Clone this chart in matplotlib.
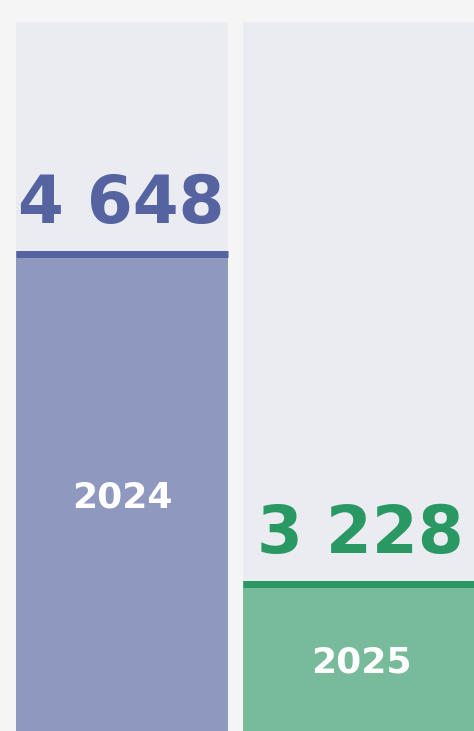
import matplotlib
matplotlib.use("Agg")
import matplotlib.pyplot as plt
from matplotlib.transforms import offset_copy

# Data
years = ["2024", "2025"]
values = [4648, 3228]
value_labels = ["4 648", "3 228"]

# Style
page_bg = "#f5f5f5"
column_bg = "#ebecf1"
fill_colors = ["#8f99c0", "#78bb9b"]
edge_colors = ["#5563a0", "#2a9862"]

W, H, DPI = 474, 731, 100
fig = plt.figure(figsize=(W / DPI, H / DPI), dpi=DPI, facecolor=page_bg)
ax = fig.add_axes([0, 0, 1, 1 - 22 / H])
ax.set_axis_off()

# the chart is a crop: the visible window starts well above zero
ymin, ymax = 2582, 5633
ax.set_ylim(ymin, ymax)
ax.set_xlim(-0.575, 1.66)

xs = [0, 1.127]
widths = [1.0, 1.113]

# column backgrounds
for x, w in zip(xs, widths):
    ax.bar(x, ymax, width=w, color=column_bg, align="center", zorder=1)

# bars
for x, w, v, fc in zip(xs, widths, values, fill_colors):
    ax.bar(x, v, width=w, color=fc, zorder=2)

# thick top edge, sitting just inside the bar
line_tr = offset_copy(ax.transData, fig=fig, x=0, y=-3.5, units="dots")
for x, w, v, ec in zip(xs, widths, values, edge_colors):
    ax.plot([x - w / 2, x + w / 2], [v, v], color=ec, lw=7 * 72 / DPI,
            solid_capstyle="butt", transform=line_tr, zorder=3)

# value labels above bars
for x, v, lab, ec in zip(xs, values, value_labels, edge_colors):
    ax.annotate(lab, (x, v), xytext=(-1, 28), textcoords="offset pixels",
                ha="center", va="baseline", color=ec, fontsize=47.5,
                fontweight="bold", family="DejaVu Sans")

# year labels inside the visible part of each bar
for x, v, yr in zip(xs, values, years):
    ax.annotate(yr, (x, (v + ymin) / 2), xytext=(0, -7), textcoords="offset pixels",
                ha="center", va="center", color="white", fontsize=26,
                fontweight="bold", family="DejaVu Sans")

fig.savefig("out.png", dpi=DPI, facecolor=page_bg)
